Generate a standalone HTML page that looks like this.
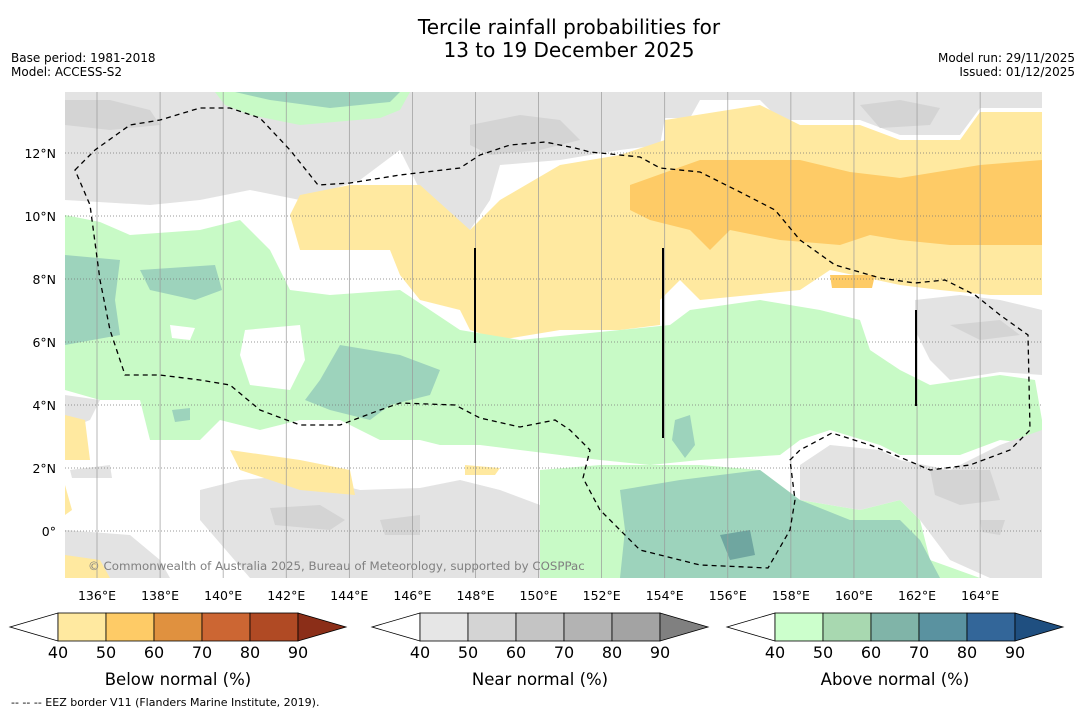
<!DOCTYPE html>
<html><head><meta charset="utf-8"><style>
body{margin:0;background:#fff;width:1085px;height:713px;overflow:hidden;font-family:"DejaVu Sans",sans-serif}
svg{display:block}
text{font-family:"DejaVu Sans","Liberation Sans",sans-serif}
</style></head><body>
<svg id="chart" width="1085" height="713">
<text x="569" y="34" font-size="20" text-anchor="middle">Tercile rainfall probabilities for</text>
<text x="569" y="57" font-size="20" text-anchor="middle">13 to 19 December 2025</text>
<text x="11" y="62" font-size="12">Base period: 1981-2018</text>
<text x="11" y="76" font-size="12">Model: ACCESS-S2</text>
<text x="1075" y="62" font-size="12" text-anchor="end">Model run: 29/11/2025</text>
<text x="1075" y="76" font-size="12" text-anchor="end">Issued: 01/12/2025</text>
<defs><clipPath id="mapclip"><rect x="65" y="92" width="977" height="486"/></clipPath></defs>
<g id="map" clip-path="url(#mapclip)">
<rect x="65" y="92" width="977" height="486" fill="#fff"/>
<path fill="#e3e3e3" d="M65,92 L1042,92 L1042,108 L980,108 L960,135 L900,135 L860,120 L780,120 L760,100 L700,100 L690,118 L665,118 L660,145 L620,150 L560,160 L500,165 L490,200 L470,230 L440,225 L420,190 L400,150 L360,180 L300,200 L250,190 L200,200 L150,205 L65,200 Z"/>
<path fill="#d4d4d4" d="M470,125 L520,115 L560,120 L580,140 L540,150 L490,155 L470,145 Z M65,100 L110,100 L150,110 L160,125 L110,130 L65,125 Z M860,105 L900,100 L940,108 L930,125 L880,128 Z"/>
<path fill="#c8fac6" d="M215,92 L410,92 L400,110 L380,118 L300,125 L250,115 L225,105 Z"/>
<path fill="#9dd3bc" d="M235,92 L400,92 L390,102 L330,108 L270,100 Z"/>
<path fill="#ffe9a0" d="M300,195 L350,185 L420,185 L470,230 L500,200 L560,165 L620,155 L665,140 L665,120 L760,105 L800,125 L860,125 L900,140 L960,140 L980,112 L1042,112 L1042,295 L990,295 L940,290 L900,285 L830,270 L800,290 L700,300 L680,280 L660,300 L660,325 L620,330 L560,330 L500,340 L470,330 L460,310 L420,300 L400,275 L390,250 L300,250 L290,215 Z"/>
<path fill="#fecb66" d="M630,185 L700,160 L800,160 L850,172 L900,178 L980,165 L1042,160 L1042,245 L950,245 L900,240 L870,235 L840,245 L780,240 L730,230 L710,250 L690,230 L650,220 L630,210 Z M830,275 L875,275 L872,288 L832,288 Z"/>
<path fill="#c8fac6" d="M65,215 L100,222 L130,235 L200,230 L240,220 L270,250 L290,290 L330,295 L400,290 L460,330 L520,340 L620,330 L670,325 L690,310 L760,300 L820,310 L860,320 L870,350 L900,370 L930,385 L1000,375 L1035,380 L1042,420 L1042,445 L1000,440 L960,455 L900,455 L880,445 L830,430 L800,440 L780,455 L700,460 L650,465 L600,460 L560,455 L520,450 L480,445 L440,445 L420,440 L380,440 L340,420 L300,420 L260,430 L220,420 L200,440 L150,440 L140,400 L100,400 L65,390 Z"/>
<path fill="#fff" d="M245,330 L300,325 L305,360 L290,390 L250,385 L240,355 Z M170,325 L195,328 L190,340 L172,338 Z"/>
<path fill="#c8fac6" d="M540,470 L600,465 L700,465 L760,470 L800,500 L860,510 L900,500 L920,520 L930,560 L980,578 L540,578 Z"/>
<path fill="#9dd3bc" d="M620,490 L680,480 L760,470 L800,500 L850,520 L900,520 L920,540 L940,578 L620,578 L625,530 Z M65,255 L120,260 L115,300 L120,335 L65,345 Z M340,345 L400,355 L440,370 L430,395 L390,405 L370,420 L330,410 L305,400 L320,380 Z M140,270 L215,265 L222,290 L195,300 L150,290 Z M675,420 L690,415 L695,445 L685,458 L672,440 Z M172,410 L190,408 L190,420 L175,422 Z"/>
<path fill="#6fa6a0" d="M720,535 L750,530 L755,555 L730,560 Z"/>
<path fill="#e3e3e3" d="M200,490 L240,480 L300,475 L360,490 L420,488 L460,480 L500,490 L540,505 L540,578 L250,578 L200,520 Z M65,395 L100,400 L90,420 L65,430 Z M70,470 L110,465 L112,478 L72,478 Z M65,530 L130,535 L160,560 L170,578 L65,578 Z"/>
<path fill="#d4d4d4" d="M270,508 L320,505 L345,520 L330,530 L275,525 Z M380,520 L420,515 L420,535 L385,535 Z"/>
<path fill="#e3e3e3" d="M800,465 L830,445 L880,450 L900,460 L950,470 L1000,445 L1042,430 L1042,578 L990,578 L950,560 L920,520 L900,500 L860,510 L800,500 Z M915,300 L960,295 L1000,300 L1042,310 L1042,375 L1000,372 L950,380 L930,360 L915,330 Z"/>
<path fill="#d4d4d4" d="M930,470 L990,470 L1000,500 L960,505 L935,495 Z M950,325 L1000,320 L1020,335 L980,340 Z M980,520 L1005,520 L1000,535 L982,532 Z"/>
<path fill="#ffe9a0" d="M230,450 L300,460 L350,470 L355,495 L300,490 L240,470 Z M65,415 L85,420 L90,460 L65,460 Z M65,485 L72,510 L65,515 Z M65,555 L100,560 L110,578 L65,578 Z M465,465 L500,468 L495,475 L465,475 Z"/>
<g id="grid"></g>
<path fill="none" stroke="#000" stroke-width="1.3" stroke-dasharray="5,4" d="M75,170 L95,150 L130,125 L160,120 L200,108 L230,108 L260,118 L290,150 L318,185 L350,183 L400,175 L460,168 L480,155 L510,145 L545,142 L575,148 L590,152 L640,157 L660,168 L700,172 L740,192 L775,210 L800,240 L835,265 L880,278 L915,283 L945,280 L975,295 L1000,315 L1028,335 L1030,430 L1010,450 L970,465 L930,470 L895,455 L870,445 L832,433 L800,450 L790,460 L795,500 L790,530 L768,568 L700,565 L640,550 L600,510 L583,478 L590,450 L570,430 L555,420 L520,427 L480,418 L455,405 L400,403 L380,410 L340,425 L300,425 L260,410 L230,385 L200,380 L160,375 L125,375 L110,330 L100,280 L90,205 Z"/>
<path stroke="#000" stroke-width="2" d="M475,248 V343 M663,248 V438 M916,310 V406"/>
<text x="88" y="570" font-size="11.8" fill="#808080">© Commonwealth of Australia 2025, Bureau of Meteorology, supported by COSPPac</text>
</g>
<g id="axislabels"></g>
<g id="colorbars"></g>
<text x="11" y="706" font-size="11">--  --  -- EEZ border V11 (Flanders Marine Institute, 2019).</text>
</svg>
<script>
const lonTicks=[136,138,140,142,144,146,148,150,152,154,156,158,160,162,164];
const latTicks=[0,2,4,6,8,10,12];
const cbTicks=[40,50,60,70,80,90];
const belowColors=["#ffe9a0","#fecb66","#e0913f","#cc6633","#b04a24"];
const nearColors=["#e6e6e6","#d4d4d4","#c4c4c4","#b3b3b3","#a3a3a3"];
const aboveColors=["#ccffcc","#a8d8b0","#80b4a8","#5a92a0","#336699"];
const cbEnds=["#8b2e18","#808080","#1f4f80"];
const cbTitles=["Below normal (%)","Near normal (%)","Above normal (%)"];
const NS="http://www.w3.org/2000/svg";
const xs=lon=>97+(lon-136)*31.54;
const ys=lat=>531-lat*31.5;
function mk(tag,attrs,parent){const e=document.createElementNS(NS,tag);for(const k in attrs)e.setAttribute(k,attrs[k]);parent.appendChild(e);return e;}
const grid=document.getElementById('grid'),ax=document.getElementById('axislabels');
lonTicks.forEach(l=>{
 const ln=mk('line',{x1:xs(l),x2:xs(l),y1:92,y2:578,stroke:'#999','stroke-width':0.7},grid);
 
 
 const t=mk('text',{x:xs(l),y:600,'font-size':12.5,'text-anchor':'middle'},ax);t.textContent=l+'°E';
 
 
});
latTicks.forEach(l=>{
 const ln=mk('line',{x1:65,x2:1042,y1:ys(l),y2:ys(l),stroke:'#777','stroke-width':0.8,'stroke-dasharray':'1,2'},grid);
 
 
 const t=mk('text',{x:56,y:ys(l)+5,'font-size':12.5,'text-anchor':'end'},ax);t.textContent=l===0?'0°':l+'°N';
 
 
});
const cb=document.getElementById('colorbars');
const starts=[10,372,727];
[belowColors,nearColors,aboveColors].forEach((cols,i)=>{
 const x0=starts[i],b0=x0+48,y0=613,h=28;
 const tl=mk('polygon',{points:`${x0},${y0+h/2} ${b0},${y0} ${b0},${y0+h}`,fill:'#fff',stroke:'#000','stroke-width':0.8},cb);
 
 
 cols.forEach((c,j)=>{
  const r=mk('rect',{x:b0+j*48,y:y0,width:48,height:h,fill:c,stroke:'#000','stroke-width':0.8},cb);
  
  
 });
 const e=b0+240;
 const tr=mk('polygon',{points:`${e},${y0} ${e+48},${y0+h/2} ${e},${y0+h}`,fill:cbEnds[i],stroke:'#000','stroke-width':0.8},cb);
 
 
 cbTicks.forEach((v,j)=>{
  const t=mk('text',{x:b0+j*48,y:658,'font-size':16,'text-anchor':'middle'},cb);t.textContent=v;
  
  
 });
 const tt=mk('text',{x:b0+120,y:685,'font-size':16.5,'text-anchor':'middle'},cb);tt.textContent=cbTitles[i];
 
 
});
</script>
</body></html>
